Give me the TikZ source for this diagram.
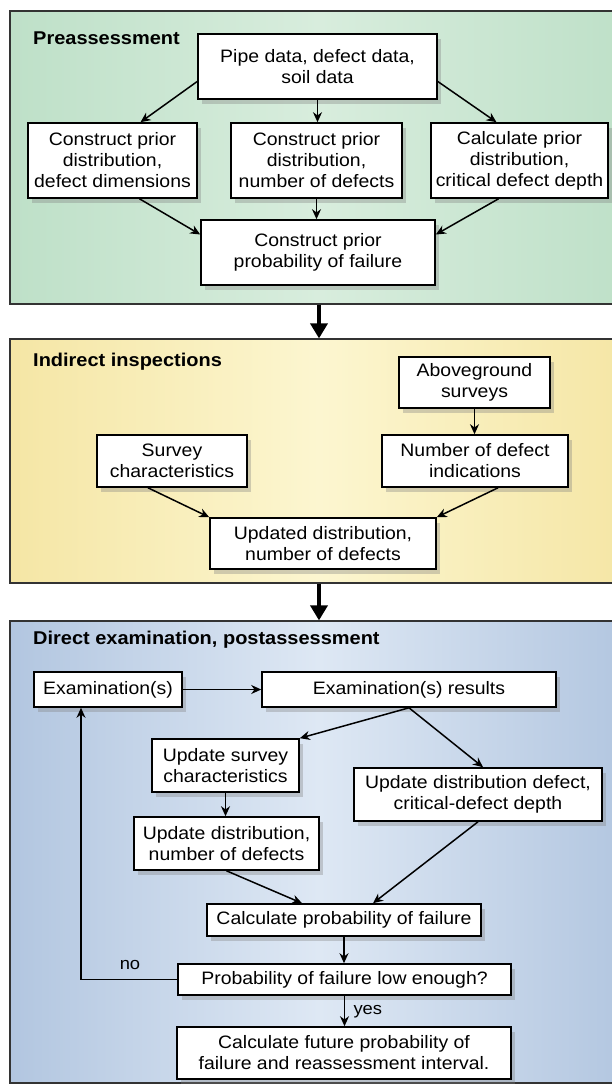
\documentclass[tikz,border=0pt]{standalone}
\usepackage{fontspec}
\setmainfont{Liberation Sans}[FakeStretch=1.08]
\usetikzlibrary{arrows.meta,shadows}

\definecolor{greenedge}{RGB}{190,224,200}
\definecolor{greenmid}{RGB}{216,237,221}
\definecolor{yellowedge}{RGB}{245,230,165}
\definecolor{yellowmid}{RGB}{252,246,208}
\definecolor{blueedge}{RGB}{178,198,224}
\definecolor{bluemid}{RGB}{222,232,244}

\begin{document}
\begin{tikzpicture}[x=1pt, y=-1pt,
	box/.style={draw, line width=1.6pt, fill=white, align=center, inner sep=0pt,
		font=\fontsize{18}{21}\selectfont,
		drop shadow={shadow xshift=4pt, shadow yshift=-5pt, opacity=0.35}},
	panel/.style={draw=black!80, line width=1.2pt, inner sep=0pt},
	heading/.style={anchor=west, inner sep=0pt, font=\bfseries\fontsize{18.5}{22}\selectfont},
	tag/.style={font=\fontsize{17}{20}\selectfont},
	flow/.style={line width=1.5pt, -{Stealth[length=10pt,width=9pt]}},
	bigflow/.style={line width=3.5pt, -{Triangle[length=15pt,width=17pt]}}]

	\useasboundingbox (0,0) rectangle (612,1084);

	% the three stages
	\node[panel, minimum width=618, minimum height=293, left color=greenedge, right color=greenedge, middle color=greenmid] (pre) at (319,157.5) {};
	\node[panel, minimum width=618, minimum height=244, left color=yellowedge, right color=yellowedge, middle color=yellowmid] (ind) at (319,461) {};
	\node[panel, minimum width=618, minimum height=462, left color=blueedge, right color=blueedge, middle color=bluemid] (dir) at (319,852) {};

	\draw[bigflow] (pre.south) -- (ind.north);
	\draw[bigflow] (ind.south) -- (dir.north);

	% preassessment
	\node[heading] (hpre) at (33,38) {Preassessment};
	\node[box, minimum width=239, minimum height=65] (pipe) at (317.5,66.5) {Pipe data, defect data,\\ soil data};
	\node[box, minimum width=169, minimum height=75] (priorA) at (112.5,160.5) {Construct prior\\ distribution,\\ defect dimensions};
	\node[box, minimum width=171, minimum height=75] (priorB) at (316.5,160.5) {Construct prior\\ distribution,\\ number of defects};
	\node[box, minimum width=177, minimum height=75] (priorC) at (519.5,160.5) {Calculate prior\\ distribution,\\ critical defect depth};
	\node[box, minimum width=234, minimum height=65] (priorPF) at (318,252.5) {Construct prior\\ probability of failure};

	\draw[flow] ([yshift=-15]pipe.west) -- ([xshift=28]priorA.north);
	\draw[flow] (pipe.south) -- (pipe.south |- priorB.north);
	\draw[flow] ([yshift=-15]pipe.east) -- ([xshift=-23]priorC.north);
	\draw[flow] ([xshift=27]priorA.south) -- ([yshift=18]priorPF.west);
	\draw[flow] (priorB.south) -- (priorB.south |- priorPF.north);
	\draw[flow] ([xshift=-21]priorC.south) -- ([yshift=18]priorPF.east);

	% indirect inspections
	\node[heading] (hind) at (33,362) {Indirect inspections};
	\node[box, minimum width=151, minimum height=51] (above) at (474.5,382.5) {Aboveground\\ surveys};
	\node[box, minimum width=186, minimum height=52] (indic) at (475,461) {Number of defect\\ indications};
	\node[box, minimum width=150, minimum height=52] (survey) at (172,461) {Survey\\ characteristics};
	\node[box, minimum width=226, minimum height=51] (updated) at (323,543.5) {Updated distribution,\\ number of defects};

	\draw[flow] (above.south) -- (above.south |- indic.north);
	\draw[flow] ([xshift=-24]survey.south) -- (updated.north west);
	\draw[flow] ([xshift=23]indic.south) -- (updated.north east);

	% direct examination
	\node[heading] (hdir) at (33,640) {Direct examination, postassessment};
	\node[box, minimum width=148, minimum height=35] (exam) at (108,689.5) {Examination(s)};
	\node[box, minimum width=294, minimum height=35] (results) at (409,689.5) {Examination(s) results};
	\node[box, minimum width=147, minimum height=53] (updsurvey) at (225.5,765.5) {Update survey\\ characteristics};
	\node[box, minimum width=248, minimum height=53] (upddefect) at (478,794.5) {Update distribution defect,\\ critical-defect depth};
	\node[box, minimum width=185, minimum height=53] (updnum) at (226.5,843.5) {Update distribution,\\ number of defects};
	\node[box, minimum width=274, minimum height=32] (calcpf) at (344,920) {Calculate probability of failure};
	\node[box, minimum width=333, minimum height=31] (lowenough) at (344.5,979.5) {Probability of failure low enough?};
	\node[box, minimum width=334, minimum height=52] (future) at (344,1053) {Calculate future probability of\\ failure and reassessment interval.};

	\draw[flow] (exam.east) -- (results.west);
	\draw[flow] (results.south) -- (updsurvey.north east);
	\draw[flow] (results.south) -- ([xshift=5]upddefect.north);
	\draw[flow] (updsurvey.south) -- (updsurvey.south |- updnum.north);
	\draw[flow] (updnum.south) -- ([xshift=-42]calcpf.north);
	\draw[flow] (upddefect.south) -- ([xshift=29]calcpf.north);
	\draw[flow] (calcpf.south) -- (calcpf.south |- lowenough.north);
	\draw[flow] (lowenough.south) -- (lowenough.south |- future.north);

	% loop back when too high
	\coordinate (back) at (81,979.5);
	\draw[flow] (lowenough.west) -- (back) -- (back |- exam.south);
	\node[tag] (no) at (130,965) {no};
	\node[tag, anchor=west] (yes) at (350,1012) {yes};
\end{tikzpicture}
\end{document}
